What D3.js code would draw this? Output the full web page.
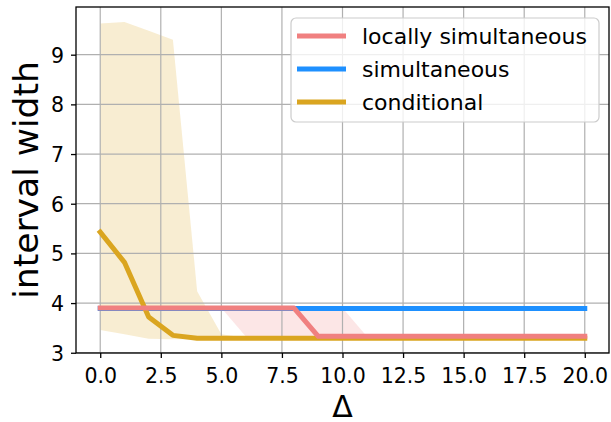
<!DOCTYPE html>
<html>
<head>
<meta charset="UTF-8">
<title>interval width</title>
<script src="https://d3js.org/d3.v7.min.js"></script>
<style>
  body { margin: 0; background: white; }
  svg { display: block; font-family: "DejaVu Sans", sans-serif; }
  .grid line { stroke: #b0b0b0; stroke-width: 1.2; }
  .axis path, .axis line { stroke: black; stroke-width: 1.3; }
  .axis text { font-size: 20.5px; fill: black; font-family: "DejaVu Sans", sans-serif; }
</style>
</head>
<body>
<svg width="611" height="422"></svg>
<script>
// data
var deltas = [0,1,2,3,4,5,6,7,8,9,10,11,12,13,14,15,16,17,18,19,20]

var locSim = [3.90,3.90,3.90,3.90,3.90,3.90,3.90,3.90,3.90,3.33,3.33,3.33,3.33,3.33,3.33,3.33,3.33,3.33,3.33,3.33,3.33]
var locSimLo = [3.90,3.90,3.90,3.90,3.90,3.90,3.33,3.33,3.33,3.33,3.33,3.33,3.33,3.33,3.33,3.33,3.33,3.33,3.33,3.33,3.33]
var locSimHi = [3.90,3.90,3.90,3.90,3.90,3.90,3.90,3.90,3.90,3.90,3.90,3.33,3.33,3.33,3.33,3.33,3.33,3.33,3.33,3.33,3.33]

var simult = [3.89,3.89,3.89,3.89,3.89,3.89,3.89,3.89,3.89,3.89,3.89,3.89,3.89,3.89,3.89,3.89,3.89,3.89,3.89,3.89,3.89]

var cond = [5.43,4.82,3.72,3.35,3.29,3.29,3.29,3.29,3.29,3.29,3.29,3.29,3.29,3.29,3.29,3.29,3.29,3.29,3.29,3.29,3.29]
var condLo = [3.46,3.37,3.28,3.27,3.27,3.27,3.27,3.27,3.27,3.27,3.27,3.27,3.27,3.27,3.27,3.27,3.27,3.27,3.27,3.27,3.27]
var condHi = [9.63,9.66,9.48,9.30,4.24,3.37,3.30,3.30,3.30,3.30,3.30,3.30,3.30,3.30,3.30,3.30,3.30,3.30,3.30,3.30,3.30]

var xTicks = [0,2.5,5,7.5,10,12.5,15,17.5,20]
var yTicks = [3,4,5,6,7,8,9]

var names = ["locally simultaneous", "simultaneous", "conditional"]
var colors = ["#F08080", "#1E90FF", "#DAA520"]

var svg = d3.select("svg")
var margin = {left: 76, right: 2, top: 7, bottom: 69}
var width = 611 - margin.left - margin.right
var height = 422 - margin.top - margin.bottom

var x = d3.scaleLinear().domain([-1, 21]).range([0, width])
var y = d3.scaleLinear().domain([2.995, 9.96]).range([height, 0])

var g = svg.append("g").attr("transform", "translate(" + margin.left + "," + margin.top + ")")

// bands first (under the grid)
function band(lo, hi, color) {
  var area = d3.area()
    .x(function(d, i) { return x(deltas[i]) })
    .y0(function(d, i) { return y(lo[i]) })
    .y1(function(d, i) { return y(hi[i]) })
  g.append("path")
    .datum(deltas)
    .attr("d", area)
    .attr("fill", color)
    .attr("fill-opacity", 0.2)
}
band(condLo, condHi, colors[2])
band(locSimLo, locSimHi, colors[0])

// grid
g.append("g").attr("class", "grid")
  .selectAll("line").data(xTicks).enter().append("line")
  .attr("x1", function(d) { return x(d) }).attr("x2", function(d) { return x(d) })
  .attr("y1", 0).attr("y2", height)
g.append("g").attr("class", "grid")
  .selectAll("line").data(yTicks).enter().append("line")
  .attr("y1", function(d) { return y(d) }).attr("y2", function(d) { return y(d) })
  .attr("x1", 0).attr("x2", width)

// lines
var line = d3.line()
  .x(function(d, i) { return x(deltas[i]) })
  .y(function(d) { return y(d) })

function drawLine(vals, color) {
  g.append("path")
    .datum(vals)
    .attr("d", line)
    .attr("fill", "none")
    .attr("stroke", color)
    .attr("stroke-width", 5)
    .attr("stroke-linecap", "square")
    .attr("stroke-linejoin", "round")
}
drawLine(simult, colors[1])
drawLine(cond, colors[2])
drawLine(locSim, colors[0])

// axes
var xAxis = g.append("g").attr("class", "axis")
  .attr("transform", "translate(0," + height + ")")
  .call(d3.axisBottom(x).tickValues(xTicks).tickFormat(d3.format(".1f")).tickSize(5).tickPadding(10))
var yAxis = g.append("g").attr("class", "axis")
  .call(d3.axisLeft(y).tickValues(yTicks).tickFormat(d3.format("d")).tickSize(5).tickPadding(7))
yAxis.selectAll("text").attr("dy", "0.36em")
xAxis.select(".domain").remove()
yAxis.select(".domain").remove()

// frame
g.append("rect")
  .attr("width", width).attr("height", height)
  .attr("fill", "none").attr("stroke", "black").attr("stroke-width", 1.3)

// axis labels
svg.append("text")
  .attr("transform", "translate(38," + (margin.top + height / 2) + ") rotate(-90)")
  .attr("text-anchor", "middle")
  .style("font-size", "34.5px")
  .text("interval width")

svg.append("text")
  .attr("x", margin.left + width / 2)
  .attr("y", 417)
  .attr("text-anchor", "middle")
  .style("font-size", "30px")
  .text("Δ")

// legend
var leg = svg.append("g").attr("transform", "translate(291,18)")
leg.append("rect")
  .attr("width", 308).attr("height", 104)
  .attr("rx", 5)
  .attr("fill", "white").attr("fill-opacity", 0.8)
  .attr("stroke", "#cccccc").attr("stroke-width", 1.2)

var rows = leg.selectAll(".row").data(names).enter().append("g")
  .attr("transform", function(d, i) { return "translate(0," + (18 + i * 33) + ")" })
rows.append("line")
  .attr("x1", 6).attr("x2", 55)
  .attr("stroke", function(d, i) { return colors[i] })
  .attr("stroke-width", 5)
rows.append("text")
  .attr("x", 71).attr("y", 8)
  .style("font-size", "22px")
  .text(function(d) { return d })
</script>
</body>
</html>
